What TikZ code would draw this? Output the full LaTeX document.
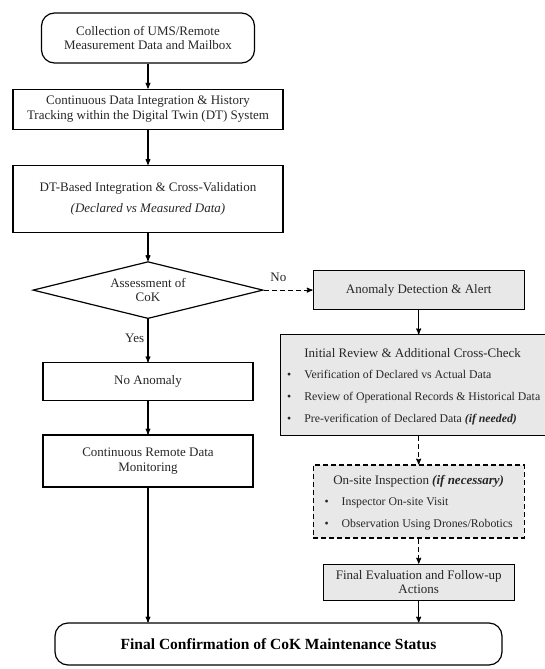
\documentclass[tikz,border=0pt]{standalone}
\usepackage{fontspec}
\setmainfont{Liberation Serif}
\usepackage{tikz}
\usetikzlibrary{arrows,shapes.geometric}
\usetikzlibrary{positioning}
\definecolor{boxgrey}{RGB}{232,232,232}
\tikzstyle{box}  = [draw,rectangle,line width=1.2pt,align=center,inner sep=2pt]
\tikzstyle{term} = [box,rounded corners=13pt]
\tikzstyle{greybox} = [box,fill=boxgrey]
\tikzstyle{decision} = [draw,diamond,line width=1.2pt,aspect=4,inner sep=0pt,align=center,minimum width=230pt,minimum height=57pt]
\tikzstyle{dashline} = [dash pattern=on 5pt off 3pt]
\newcommand{\bulfont}{\fontsize{11.8}{14}\selectfont}

\begin{document}
\begin{tikzpicture}[->,>=stealth',auto,line width=1.1pt,text=black!85,font=\fontsize{13}{14.5}\selectfont]

\useasboundingbox (0pt,0pt) rectangle (544pt,-669pt);

% left column
\node[term, minimum width=213pt, minimum height=50pt] (collect) at (148pt,-38pt) {Collection of UMS/Remote\\Measurement Data and Mailbox};
\node[box, minimum width=270pt, minimum height=40pt][below=25pt of collect](integ){Continuous Data Integration \& History\\Tracking within the Digital Twin (DT) System};
\node[box, minimum width=270pt, minimum height=67pt][below=35pt of integ](xval){DT-Based Integration \& Cross-Validation\\[7pt]\textit{(Declared vs Measured Data)}};
\node[decision][below=28pt of xval](assess){Assessment of\\CoK};
\node[box, minimum width=210pt, minimum height=38pt][below=43pt of assess](noanom){No Anomaly};
\node[box, minimum width=210pt, minimum height=52pt][below=33pt of noanom](monitor){Continuous Remote Data\\Monitoring};

% right column
\node[greybox, minimum width=211pt, minimum height=39pt][right=49pt of assess](detect){Anomaly Detection \& Alert};
\node[greybox, minimum width=266pt, minimum height=101pt][below=24pt of detect, xshift=-5pt](review){\def\arraystretch{1.52}%
\begin{tabular}{@{}c@{\hspace{13pt}}l@{}}
 & Initial Review \& Additional Cross-Check\\[-1pt]
\bulfont\textbullet & \bulfont Verification of Declared vs Actual Data\\
\bulfont\textbullet & \bulfont Review of Operational Records \& Historical Data\\
\bulfont\textbullet & \bulfont Pre-verification of Declared Data \textbf{\textit{(if needed)}}
\end{tabular}};
\node[greybox, dashline, minimum width=211pt, minimum height=73pt][below=28pt of review, xshift=5pt](onsite){\def\arraystretch{1.5}%
\begin{tabular}{@{}c@{\hspace{13pt}}l@{}}
\multicolumn{2}{c}{On-site Inspection \textbf{\textit{(if necessary)}}}\\[-1pt]
\bulfont\textbullet & \bulfont Inspector On-site Visit\\
\bulfont\textbullet & \bulfont Observation Using Drones/Robotics
\end{tabular}};
\node[greybox, minimum width=191pt, minimum height=36pt][below=25pt of onsite](fineval){Final Evaluation and Follow-up\\Actions};

\node[term, minimum width=447pt, minimum height=42pt, text=black, font=\fontsize{15.5}{17}\selectfont\bfseries] (final) at (278.5pt,-644pt) {Final Confirmation of CoK Maintenance Status};

\path
	(collect) edge (integ)
	(integ) edge (xval)
	(xval) edge (assess)
	(assess) edge node[swap, pos=0.45] {Yes} (noanom)
	(noanom) edge (monitor)
	(monitor) edge (monitor |- final.north);

\path
	(assess) edge[dashline] node[pos=0.3, yshift=5pt] {No} (detect)
	(detect) edge (detect |- review.north)
	(onsite |- review.south) edge[dashline] (onsite)
	(onsite) edge[dashline] (fineval)
	(fineval) edge (fineval |- final.north);

\end{tikzpicture}
\end{document}
